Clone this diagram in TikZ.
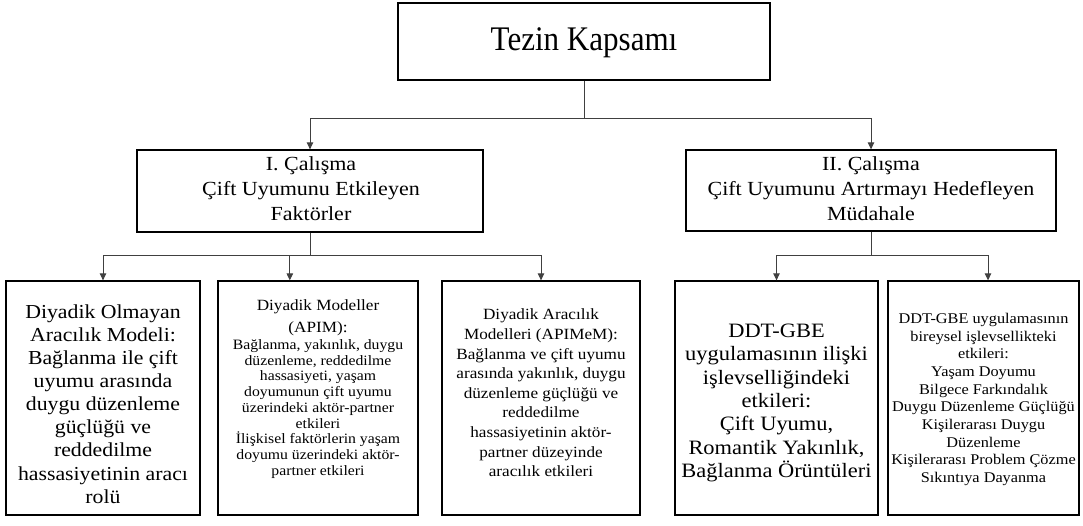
\documentclass[tikz,border=0pt]{standalone}
\usepackage{fontspec}
\setmainfont{Liberation Serif}[FakeStretch=1.1]
\newfontfamily\titlefont{Liberation Serif}[FakeStretch=0.9]
\usetikzlibrary{arrows.meta,calc}
\begin{document}
\begin{tikzpicture}[x=1pt,y=-1pt,
  box/.style={draw=black,line width=1.3pt,inner sep=0pt},
  conn/.style={draw=black!75,line width=0.9pt},
  arr/.style={conn,-{Triangle[length=7pt,width=6.5pt]}},
  txt/.style={align=center,inner sep=0pt}]
\useasboundingbox (0,0) rectangle (1083,526);

% frames
\node[box,minimum width=372pt,minimum height=77pt] (top) at (584,41.5) {};
\node[box,minimum width=346pt,minimum height=82pt] (s1) at (310,191) {};
\node[box,minimum width=370pt,minimum height=81pt] (s2) at (871,190.5) {};
\node[box,minimum width=194pt,minimum height=234pt] (b1) at (103,398) {};
\node[box,minimum width=200pt,minimum height=234pt] (b2) at (318,398) {};
\node[box,minimum width=198pt,minimum height=234pt] (b3) at (541,398) {};
\node[box,minimum width=203pt,minimum height=234pt] (b4) at (776.5,398) {};
\node[box,minimum width=191pt,minimum height=234pt] (b5) at (983.5,398) {};

% labels
\node[txt,font=\titlefont\fontsize{34.5}{40}\selectfont] (ttop) at (584,43) {Tezin Kapsamı};
\node[txt,font=\fontsize{20}{25}\selectfont] (ts1) at (311,189) {I. Çalışma\\Çift Uyumunu Etkileyen\\Faktörler};
\node[txt,font=\fontsize{20}{25}\selectfont] (ts2) at (871,189) {II. Çalışma\\Çift Uyumunu Artırmayı Hedefleyen\\Müdahale};
\node[txt,font=\fontsize{19.8}{23.1}\selectfont] (tb1) at (103,404) {Diyadik Olmayan\\Aracılık Modeli:\\Bağlanma ile çift\\uyumu arasında\\duygu düzenleme\\güçlüğü ve\\reddedilme\\hassasiyetinin aracı\\rolü};
\node[txt,font=\fontsize{15.6}{22}\selectfont] (tb2a) at (318,318) {Diyadik Modeller\\(APIM):};
\node[txt,font=\fontsize{14.3}{15.75}\selectfont] (tb2b) at (318,409) {Bağlanma, yakınlık, duygu\\düzenleme, reddedilme\\hassasiyeti, yaşam\\doyumunun çift uyumu\\üzerindeki aktör-partner\\etkileri\\İlişkisel faktörlerin yaşam\\doyumu üzerindeki aktör-\\partner etkileri};
\node[txt,font=\fontsize{15.6}{19.6}\selectfont] (tb3) at (541,393) {Diyadik Aracılık\\Modelleri (APIMeM):\\Bağlanma ve çift uyumu\\arasında yakınlık, duygu\\düzenleme güçlüğü ve\\reddedilme\\hassasiyetinin aktör-\\partner düzeyinde\\aracılık etkileri};
\node[txt,font=\fontsize{20.4}{23.3}\selectfont] (tb4) at (776.5,403) {DDT-GBE\\uygulamasının ilişki\\işlevselliğindeki\\etkileri:\\Çift Uyumu,\\Romantik Yakınlık,\\Bağlanma Örüntüleri};
\node[txt,font=\fontsize{14.8}{17.7}\selectfont] (tb5) at (983.5,399.5) {DDT-GBE uygulamasının\\bireysel işlevsellikteki\\etkileri:\\Yaşam Doyumu\\Bilgece Farkındalık\\Duygu Düzenleme Güçlüğü\\Kişilerarası Duygu\\Düzenleme\\Kişilerarası Problem Çözme\\Sıkıntıya Dayanma};

% junction points
\coordinate (j0) at (584,118);
\coordinate (j1) at (310,255);
\coordinate (j2) at (871,255);

% connectors
\draw[conn] (top.south) -- (j0);
\draw[arr] (j0) -| (s1.north);
\draw[arr] (j0) -| (s2.north);
\draw[conn] (s1.south) -- (j1);
\draw[arr] (j1) -| (b1.north);
\draw[arr] (j1) -| ($(b2.north west)!0.36!(b2.north east)$);
\draw[arr] (j1) -| (b3.north);
\draw[conn] (s2.south) -- (j2);
\draw[arr] (j2) -| (b4.north);
\draw[arr] (j2) -| ($(b5.north)+(4.5,0)$);
\end{tikzpicture}
\end{document}
